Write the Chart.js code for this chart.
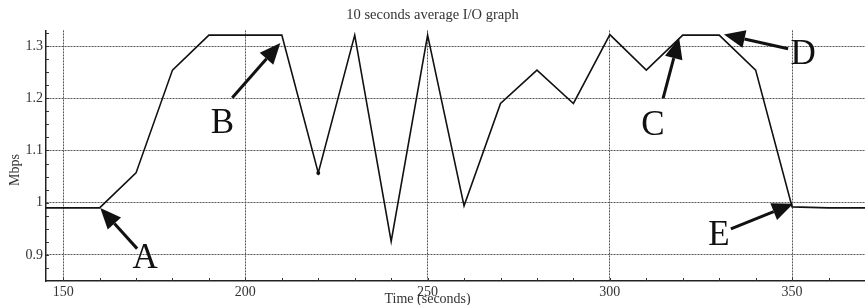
<!DOCTYPE html>
<html>
<head>
<meta charset="utf-8">
<script src="https://cdn.jsdelivr.net/npm/chart.js@4/dist/chart.umd.min.js"></script>
<style>
  body { margin: 0; background: #fff; }
  #wrap { width: 865px; height: 305px; }
</style>
</head>
<body>
<div id="wrap"><canvas id="chart" width="865" height="305"></canvas></div>
<script>
// time in seconds, Mbps averaged over 10 s
const times = [140, 150, 160, 170, 180, 190, 200, 210, 220, 230, 240, 250, 260, 270, 280, 290, 300, 310, 320, 330, 340, 350, 360, 370, 380];
const mbps = [0.99, 0.99, 0.99, 1.057, 1.254, 1.321, 1.321, 1.321, 1.057, 1.321, 0.926, 1.321, 0.994, 1.19, 1.254, 1.19, 1.322, 1.254, 1.321, 1.321, 1.254, 0.992, 0.99, 0.99, 0.99];
const xTicks = [150, 200, 250, 300, 350];
const yTicks = [0.9, 1.0, 1.1, 1.2, 1.3];

// arrow annotations, in data units: tip, tail, letter position
const marks = [
  { text: 'A', tip: [160.2, 0.990], tail: [170.3, 0.912], label: [172.5, 0.893] },
  { text: 'B', tip: [209.6, 1.306], tail: [196.4, 1.201], label: [193.7, 1.152] },
  { text: 'C', tip: [319.0, 1.316], tail: [314.6, 1.200], label: [311.8, 1.147] },
  { text: 'D', tip: [331.3, 1.322], tail: [348.9, 1.295], label: [353.0, 1.283] },
  { text: 'E', tip: [350.3, 0.998], tail: [333.2, 0.950], label: [329.9, 0.937] }
];

const serif = '"Liberation Serif", "DejaVu Serif", serif';

const extras = {
  id: 'extras',
  afterDatasetsDraw(chart) {
    const ctx = chart.ctx;
    const xs = chart.scales.x, ys = chart.scales.y;
    const a = chart.chartArea;
    ctx.save();

    // small minor ticks along the axes
    ctx.strokeStyle = '#333';
    ctx.lineWidth = 1;
    ctx.beginPath();
    for (let t = 150; t <= 370; t += 10) {
      const px = Math.round(xs.getPixelForValue(t)) + 0.5;
      ctx.moveTo(px, a.bottom); ctx.lineTo(px, a.bottom - 3);
    }
    for (let v = 0.875; v <= 1.33; v += 0.025) {
      const py = Math.round(ys.getPixelForValue(v)) + 0.5;
      ctx.moveTo(a.left, py); ctx.lineTo(a.left + 3, py);
    }
    ctx.stroke();

    // arrows and letters
    ctx.fillStyle = '#111';
    ctx.strokeStyle = '#111';
    marks.forEach(m => {
      const tx = xs.getPixelForValue(m.tip[0]), ty = ys.getPixelForValue(m.tip[1]);
      const sx = xs.getPixelForValue(m.tail[0]), sy = ys.getPixelForValue(m.tail[1]);
      const ang = Math.atan2(ty - sy, tx - sx);
      const len = 21, half = 9;
      const bx = tx - Math.cos(ang) * len, by = ty - Math.sin(ang) * len;
      ctx.lineWidth = 3;
      ctx.beginPath();
      ctx.moveTo(sx, sy); ctx.lineTo(bx, by);
      ctx.stroke();
      ctx.beginPath();
      ctx.moveTo(tx, ty);
      ctx.lineTo(bx + Math.sin(ang) * half, by - Math.cos(ang) * half);
      ctx.lineTo(bx - Math.sin(ang) * half, by + Math.cos(ang) * half);
      ctx.closePath();
      ctx.fill();

      ctx.font = '35px ' + serif;
      ctx.textAlign = 'center';
      ctx.textBaseline = 'middle';
      ctx.fillText(m.text, xs.getPixelForValue(m.label[0]), ys.getPixelForValue(m.label[1]));
    });

    // axis titles
    ctx.fillStyle = '#333';
    ctx.font = '14px ' + serif;
    ctx.textAlign = 'center';
    ctx.textBaseline = 'middle';
    ctx.fillText('Time (seconds)', xs.getPixelForValue(250), 299);
    ctx.translate(15, 170);
    ctx.rotate(-Math.PI / 2);
    ctx.fillText('Mbps', 0, 0);
    ctx.restore();
  }
};

new Chart(document.getElementById('chart'), {
  type: 'line',
  data: {
    datasets: [{
      data: times.map((t, i) => ({ x: t, y: mbps[i] })),
      borderColor: '#111',
      borderWidth: 1.6,
      tension: 0,
      pointRadius: times.map(t => t === 220 ? 2 : 0),
      pointBackgroundColor: '#111',
      pointBorderWidth: 0
    }]
  },
  options: {
    responsive: false,
    animation: false,
    layout: { padding: 0 },
    plugins: {
      legend: { display: false },
      tooltip: { enabled: false },
      title: {
        display: true,
        text: '10 seconds average I/O graph',
        color: '#333',
        font: { family: serif, size: 14.5, weight: 'normal' },
        padding: { top: 6, bottom: 7 }
      }
    },
    scales: {
      x: {
        type: 'linear',
        min: 145.3,
        max: 370,
        afterFit(s) { s.height = 24; },
        afterBuildTicks(s) { s.ticks = xTicks.map(v => ({ value: v })); },
        ticks: {
          color: '#333',
          padding: 3,
          maxRotation: 0,
          font: { family: serif, size: 14 }
        },
        grid: { color: '#555', lineWidth: 1, drawTicks: false },
        border: { display: true, color: '#222', width: 1.5, dash: [2, 1] }
      },
      y: {
        min: 0.85,
        max: 1.33,
        afterFit(s) { s.width = 46; },
        afterBuildTicks(s) { s.ticks = yTicks.map(v => ({ value: v })); },
        ticks: {
          color: '#333',
          padding: 3,
          font: { family: serif, size: 14 },
          callback: v => String(Math.round(v * 10) / 10)
        },
        grid: { color: '#555', lineWidth: 1, drawTicks: false },
        border: { display: true, color: '#222', width: 1.5, dash: [2, 1] }
      }
    }
  },
  plugins: [extras]
});
</script>
</body>
</html>
